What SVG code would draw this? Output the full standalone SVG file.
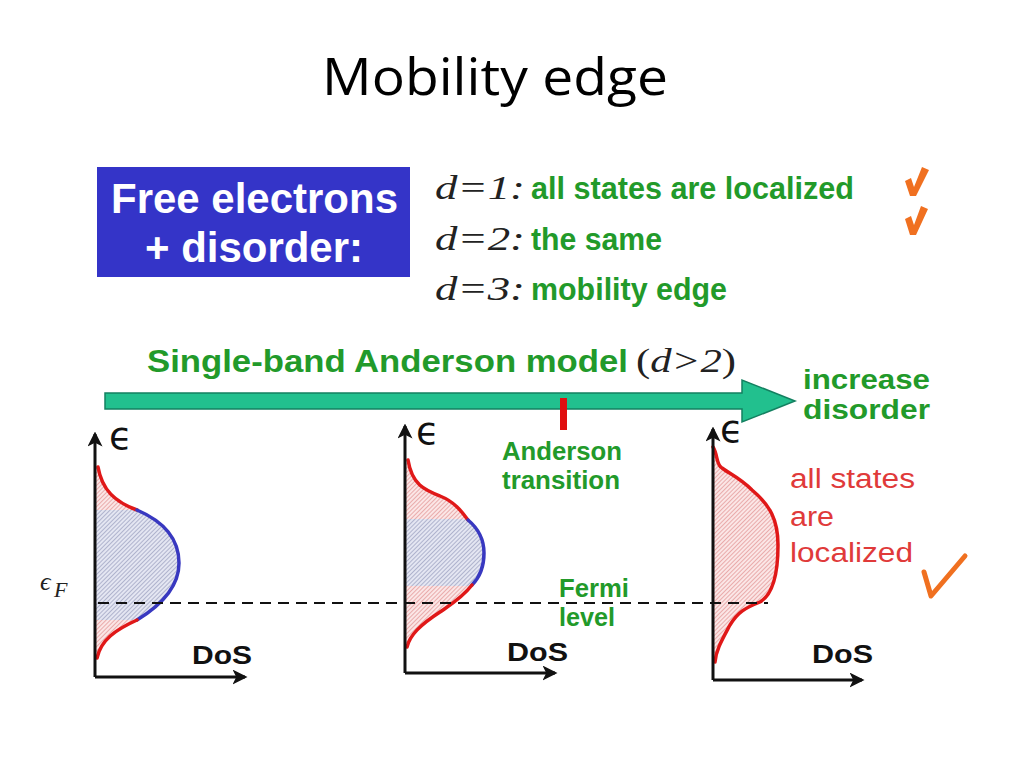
<svg xmlns="http://www.w3.org/2000/svg" width="1024" height="768" viewBox="0 0 1024 768">
<style>
.g{font-family:"Liberation Sans",Arial,sans-serif;font-weight:bold;fill:#229a2a}
.m{font-family:"Liberation Serif","Times New Roman",serif;font-style:italic;fill:#222}
.k{font-family:"Liberation Sans",Arial,sans-serif;font-weight:bold;fill:#111}
.r{font-family:"Liberation Sans",Arial,sans-serif;fill:#e03a3a}
.eps{font-family:"DejaVu Sans",sans-serif;fill:#111}
.ax{stroke:#111;stroke-width:3;fill:none}
.red{stroke:#e01818;stroke-width:3.5;fill:none;stroke-linecap:round}
.blu{stroke:#3838c0;stroke-width:3.5;fill:none;stroke-linecap:round}
.chk{fill:#f07020}
</style>
<defs>
<marker id="ah" viewBox="0 0 12 12" refX="10" refY="6" markerWidth="5" markerHeight="5" orient="auto" markerUnits="strokeWidth">
<path d="M0,0 L12,6 L0,12 L3,6 Z" fill="#111"/>
</marker>
<pattern id="pink" width="3" height="3" patternUnits="userSpaceOnUse" patternTransform="rotate(45)">
<rect width="3" height="3" fill="#fbe6e6"/>
<line x1="0" y1="0" x2="0" y2="3" stroke="#d87070" stroke-width="1"/>
</pattern>
<pattern id="blue" width="3" height="3" patternUnits="userSpaceOnUse" patternTransform="rotate(45)">
<rect width="3" height="3" fill="#e4e6f2"/>
<line x1="0" y1="0" x2="0" y2="3" stroke="#7a80a8" stroke-width="1"/>
</pattern>
<clipPath id="c1"><path d="M96,467 L98,467 C102,490 115,502 137,510 C165,522 179,540 179,563 C179,588 160,606 137,620 C115,630 101,640 97,658 L96,658 Z"/></clipPath>
<clipPath id="c2"><path d="M406,460 L408,460 C412,485 425,490 440,496 C455,502 462,512 468,520 C480,530 484,543 484,553 C484,567 479,578 472,585 C462,598 450,605 440,612 C420,625 410,635 407,647 L406,647 Z"/></clipPath>
</defs>
<rect width="1024" height="768" fill="#fff"/>

<text x="495" y="95" text-anchor="middle" font-family="Open Sans,Liberation Sans,sans-serif" font-size="52" textLength="346" lengthAdjust="spacingAndGlyphs" fill="#000">Mobility edge</text>

<g id="box">
<rect x="97" y="167" width="313" height="110" fill="#3434c8"/>
<text x="111" y="213" font-family="Liberation Sans,Arial,sans-serif" font-weight="bold" font-size="42" fill="#fff" textLength="287" lengthAdjust="spacingAndGlyphs">Free electrons</text>
<text x="145" y="262" font-family="Liberation Sans,Arial,sans-serif" font-weight="bold" font-size="42" fill="#fff" textLength="218" lengthAdjust="spacingAndGlyphs">+ disorder:</text>
</g>

<g id="dims">
<text class="m" x="435" y="199" font-size="34" textLength="90" lengthAdjust="spacingAndGlyphs">d=1:</text>
<text class="g" x="531" y="199" font-size="31" textLength="323" lengthAdjust="spacingAndGlyphs">all states are localized</text>
<text class="m" x="435" y="250" font-size="34" textLength="90" lengthAdjust="spacingAndGlyphs">d=2:</text>
<text class="g" x="531" y="250" font-size="31" textLength="131" lengthAdjust="spacingAndGlyphs">the same</text>
<text class="m" x="435" y="300" font-size="34" textLength="90" lengthAdjust="spacingAndGlyphs">d=3:</text>
<text class="g" x="531" y="300" font-size="31" textLength="196" lengthAdjust="spacingAndGlyphs">mobility edge</text>
<path class="chk" d="M905,181 L911,178 L914,187 L922,167 L929,170 L916,196 L910,196 Z"/>
<path class="chk" d="M905,219 L911,216 L914,225 L921,206 L928,209 L916,235 L910,235 Z"/>
</g>

<g id="model">
<text class="g" x="147" y="372" font-size="32" textLength="481" lengthAdjust="spacingAndGlyphs">Single-band Anderson model</text>
<text class="m" x="636" y="372" font-size="34" textLength="100" lengthAdjust="spacingAndGlyphs"><tspan font-style="normal">(</tspan>d&gt;2<tspan font-style="normal">)</tspan></text>
<path d="M105,393 L742,393 L742,380 L795,401 L742,422 L742,409 L105,409 Z" fill="#22c08e" stroke="#138060" stroke-width="1.5"/>
<rect x="560" y="398" width="7" height="32" fill="#e01010"/>
<text class="g" x="803" y="389" font-size="28" textLength="127" lengthAdjust="spacingAndGlyphs">increase</text>
<text class="g" x="803" y="419" font-size="28" textLength="127" lengthAdjust="spacingAndGlyphs">disorder</text>
</g>

<g id="plot1">
<path d="M96,467 L98,467 C102,490 115,502 137,510 C165,522 179,540 179,563 C179,588 160,606 137,620 C115,630 101,640 97,658 L96,658 Z" fill="url(#pink)"/>
<rect x="96" y="510" width="90" height="110" fill="url(#blue)" clip-path="url(#c1)"/>
<path class="red" d="M98,467 C102,490 115,502 137,510"/>
<path class="blu" d="M137,510 C165,522 179,540 179,563 C179,588 160,606 137,620"/>
<path class="red" d="M137,620 C115,630 101,640 97,658"/>
<path class="ax" d="M95,677 L95,434" marker-end="url(#ah)"/>
<path class="ax" d="M95,677 L245,677" marker-end="url(#ah)"/>
<text class="eps" x="109" y="449" font-size="38">ϵ</text>
<text class="k" x="192" y="664" font-size="26" textLength="60" lengthAdjust="spacingAndGlyphs">DoS</text>
<text class="m" x="40" y="590" font-size="26" fill="#333">ϵ</text>
<text class="m" x="54" y="597" font-size="22" fill="#333">F</text>
</g>

<g id="plot2">
<path d="M406,460 L408,460 C412,485 425,490 440,496 C455,502 462,512 468,520 C480,530 484,543 484,553 C484,567 479,578 472,585 C462,598 450,605 440,612 C420,625 410,635 407,647 L406,647 Z" fill="url(#pink)"/>
<rect x="406" y="519" width="85" height="67" fill="url(#blue)" clip-path="url(#c2)"/>
<path class="red" d="M408,460 C412,485 425,490 440,496 C455,502 462,512 468,520"/>
<path class="blu" d="M468,520 C480,530 484,543 484,553 C484,567 479,578 472,585"/>
<path class="red" d="M472,585 C462,598 450,605 440,612 C420,625 410,635 407,647"/>
<path class="ax" d="M405,673 L405,426" marker-end="url(#ah)"/>
<path class="ax" d="M405,673 L555,673" marker-end="url(#ah)"/>
<text class="eps" x="416" y="444" font-size="38">ϵ</text>
<text class="k" x="507" y="661" font-size="26" textLength="61" lengthAdjust="spacingAndGlyphs">DoS</text>
<text class="g" x="502" y="460" font-size="26" textLength="120" lengthAdjust="spacingAndGlyphs">Anderson</text>
<text class="g" x="502" y="489" font-size="26" textLength="118" lengthAdjust="spacingAndGlyphs">transition</text>
<text class="g" x="559" y="597" font-size="26" textLength="70" lengthAdjust="spacingAndGlyphs">Fermi</text>
<text class="g" x="559" y="626" font-size="26" textLength="56" lengthAdjust="spacingAndGlyphs">level</text>
</g>

<g id="plot3">
<path d="M712,447 L713,447 C718,455 716,465 722,468 C730,474 740,478 752,490 C770,505 778,520 778,545 C778,575 772,595 760,602 C745,608 738,612 730,625 C722,640 716,650 715,662 L712,662 Z" fill="url(#pink)"/>
<path class="red" d="M713,447 C718,455 716,465 722,468 C730,474 740,478 752,490 C770,505 778,520 778,545 C778,575 772,595 760,602 C745,608 738,612 730,625 C722,640 716,650 715,662"/>
<path class="ax" d="M713,680 L713,429" marker-end="url(#ah)"/>
<path class="ax" d="M713,680 L862,680" marker-end="url(#ah)"/>
<text class="eps" x="720" y="442" font-size="38">ϵ</text>
<text class="k" x="812" y="663" font-size="26" textLength="61" lengthAdjust="spacingAndGlyphs">DoS</text>
<text class="r" x="790" y="488" font-size="27" textLength="125" lengthAdjust="spacingAndGlyphs">all states</text>
<text class="r" x="790" y="526" font-size="27" textLength="44" lengthAdjust="spacingAndGlyphs">are</text>
<text class="r" x="790" y="562" font-size="27" textLength="123" lengthAdjust="spacingAndGlyphs">localized</text>
<path d="M924,572 L931,596 L965,556" fill="none" stroke="#f07020" stroke-width="5" stroke-linecap="round" stroke-linejoin="round"/>
</g>

<g id="connectors">
<line x1="98" y1="603" x2="768" y2="603" stroke="#111" stroke-width="2.2" stroke-dasharray="11 7"/>
</g>
</svg>
